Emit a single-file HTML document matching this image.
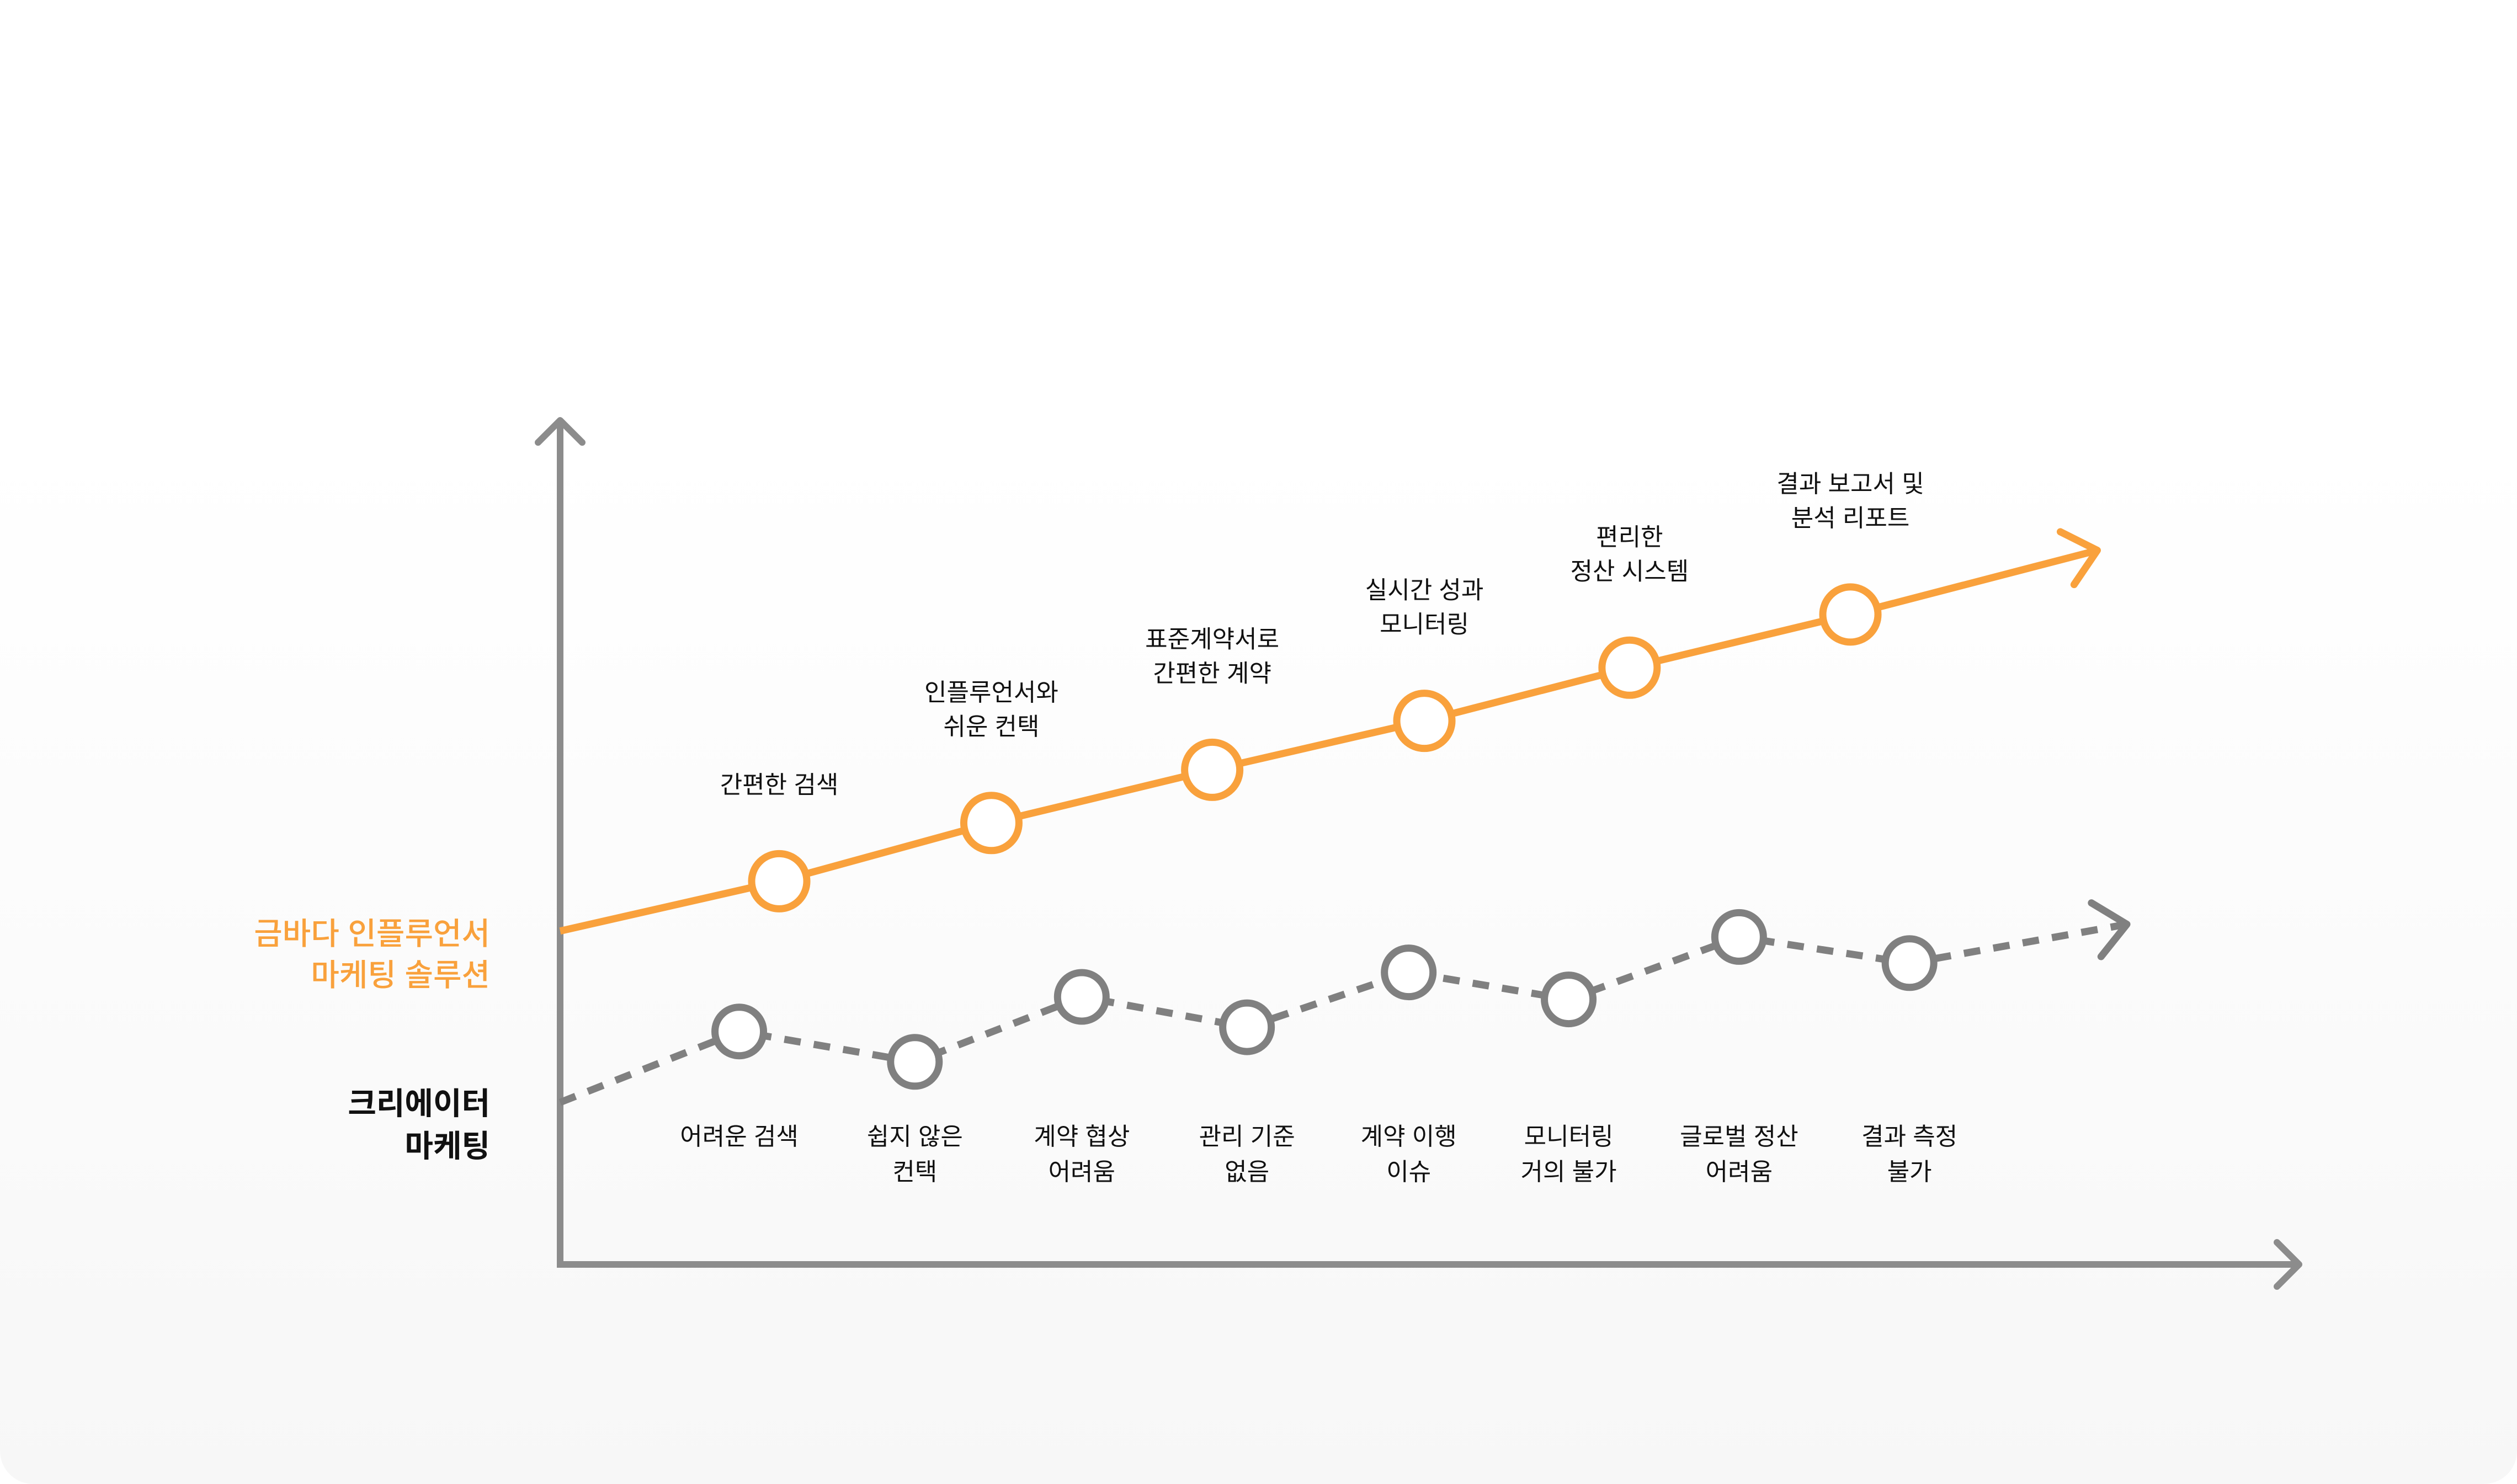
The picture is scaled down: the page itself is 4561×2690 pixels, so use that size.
<!DOCTYPE html>
<html><head><meta charset="utf-8">
<style>
html,body{margin:0;padding:0;width:4561px;height:2690px;overflow:hidden;background:#fff;}
#card{position:absolute;left:0;top:0;width:4561px;height:2690px;border-radius:0 0 60px 60px;background:linear-gradient(#ffffff 0%,#ffffff 30%,#f7f7f7 100%);}
svg{position:absolute;left:0;top:0;}
text{font-family:"Liberation Sans","Noto Sans CJK KR",sans-serif;}
</style></head>
<body>
<div id="card"></div>
<svg id="chart" width="4561" height="2690"></svg>
<script>
// data (x: 0-100 along horizontal axis, y: 0-100 along vertical axis)
const orangeX = [12.6, 24.8, 37.5, 49.7, 61.5, 74.2];
const orangeY = [45.4, 52.3, 58.6, 64.4, 70.7, 77.0];
const orangeStart = [0, 39.5];
const orangeEnd = [88.4, 84.6];
const orangeLabels = [["간편한 검색"],["인플루언서와","쉬운 컨택"],["표준계약서로","간편한 계약"],["실시간 성과","모니터링"],["편리한","정산 시스템"],["결과 보고서 및","분석 리포트"]];
const grayX = [10.3, 20.4, 30.0, 39.5, 48.8, 58.0, 67.8, 77.6];
const grayY = [27.6, 24.0, 31.7, 28.1, 34.6, 31.4, 38.8, 35.7];
const grayStart = [0, 19.2];
const grayEnd = [90.1, 40.3];
const grayLabels = [["어려운 검색"],["쉽지 않은","컨택"],["계약 협상","어려움"],["관리 기준","없음"],["계약 이행","이슈"],["모니터링","거의 불가"],["글로벌 정산","어려움"],["결과 측정","불가"]];

const NS = "http://www.w3.org/2000/svg";
const svg = document.getElementById('chart');
const X0 = 1015, XW = 31.51, Y0 = 2292, YH = 15.30;
const sx = v => X0 + v * XW;
const sy = v => Y0 - v * YH;
function mk(tag, attrs, parent) {
  const e = document.createElementNS(NS, tag);
  for (const k in attrs) e.setAttribute(k, attrs[k]);
  (parent || svg).appendChild(e);
  return e;
}
const AX = '#8c8c8c', OR = '#F9A13C', GR = '#808080';

// axes
const axes = mk('g', {});


mk('path', {d: `M${sx(0)},${sy(100)} L${sx(0)},${Y0} L${sx(100)},${Y0}`, fill: 'none', stroke: AX, 'stroke-width': 12}, axes);
mk('path', {d: `M${sx(0)-40},${sy(100)+40} L${sx(0)},${sy(100)} L${sx(0)+40},${sy(100)+40}`, fill: 'none', stroke: AX, 'stroke-width': 12, 'stroke-linecap': 'round', 'stroke-linejoin': 'round'}, axes);
mk('path', {d: `M${sx(100)-40},${Y0-40} L${sx(100)},${Y0} L${sx(100)-40},${Y0+40}`, fill: 'none', stroke: AX, 'stroke-width': 12, 'stroke-linecap': 'round', 'stroke-linejoin': 'round'}, axes);

function chevron(g, fromX, fromY, toX, toY, color) {
  const ang = Math.atan2(toY - fromY, toX - fromX);
  const L = 75, a = 0.72;
  const p1 = [toX - L * Math.cos(ang - a), toY - L * Math.sin(ang - a)];
  const p2 = [toX - L * Math.cos(ang + a), toY - L * Math.sin(ang + a)];
  const c = mk('path', {d: `M${p1[0]},${p1[1]} L${toX},${toY} L${p2[0]},${p2[1]}`, fill: 'none', stroke: color, 'stroke-width': 13, 'stroke-linecap': 'round', 'stroke-linejoin': 'round'}, g);
  
  
}

function series(name, xs, ys, start, end, color, dashed, r, labels, above) {
  const g = mk('g', {});
  
  
  const pts = [start].concat(xs.map((x, i) => [x, ys[i]])).concat([end]);
  const line = mk('polyline', {points: pts.map(p => sx(p[0]) + ',' + sy(p[1])).join(' '), fill: 'none', stroke: color, 'stroke-width': 13}, g);
  if (dashed) line.setAttribute('stroke-dasharray', '30 24');
  
  
  const n = pts.length;
  chevron(g, sx(pts[n-2][0]), sy(pts[n-2][1]), sx(end[0]), sy(end[1]), color);
  xs.forEach((x, i) => {
    const c = mk('circle', {cx: sx(x), cy: sy(ys[i]), r: r, fill: '#fff', stroke: color, 'stroke-width': 13}, g);
    
    
    const lines = labels[i];
    const t = mk('text', {x: sx(x), 'text-anchor': 'middle', 'font-size': 44, fill: '#111'}, g);
    
    
    lines.forEach((s, j) => {
      let y;
      if (above) y = sy(ys[i]) - 160 - (lines.length - 1 - j) * 62 + 0;
      else y = 2075 + j * 64;
      const ts = mk('tspan', {x: sx(x), y: y}, t);
      ts.textContent = s;
    });
  });
}
series('gray-series', grayX, grayY, grayStart, grayEnd, GR, true, 44, grayLabels, false);
series('orange-series', orangeX, orangeY, orangeStart, orangeEnd, OR, false, 50, orangeLabels, true);

// left legend labels
const lg = mk('g', {});


const t1 = mk('text', {x: 888, 'text-anchor': 'end', 'font-size': 56, fill: OR, 'font-weight': 500}, lg);


mk('tspan', {x: 888, y: 1712}, t1).textContent = '금바다 인플루언서';
mk('tspan', {x: 888, y: 1787}, t1).textContent = '마케팅 솔루션';
const t2 = mk('text', {x: 888, 'text-anchor': 'end', 'font-size': 56, fill: '#111', 'font-weight': 700}, lg);


mk('tspan', {x: 888, y: 2020}, t2).textContent = '크리에이터';
mk('tspan', {x: 888, y: 2097}, t2).textContent = '마케팅';
</script>
</body></html>
